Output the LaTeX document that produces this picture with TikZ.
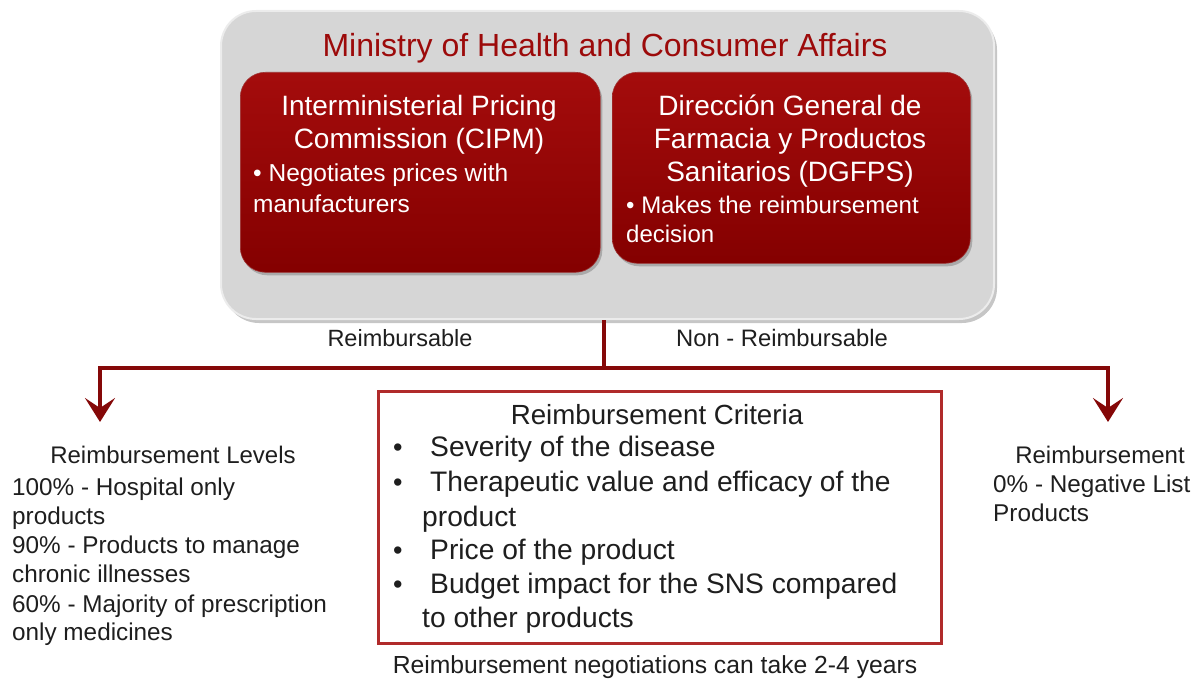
\documentclass[tikz,border=0pt]{standalone}
\usepackage{fontspec}
\setmainfont{Liberation Sans}
\usetikzlibrary{arrows.meta,shadows}
\definecolor{tred}{HTML}{9C0A0A}
\definecolor{cred}{HTML}{850808}
\definecolor{bred}{HTML}{B02A2A}
\definecolor{rtop}{HTML}{A40C0C}
\definecolor{rmid}{HTML}{950101}
\definecolor{rbot}{HTML}{840000}
\definecolor{gfill}{HTML}{D6D6D6}
\definecolor{tgray}{HTML}{1E1E1E}
\newcommand\fsz[1]{\fontsize{#1}{#1}\selectfont}
\begin{document}
\begin{tikzpicture}[x=1pt,y=-1pt,
  graybox/.style={draw=white!85!gray, line width=2pt, fill=gfill, rounded corners=35pt,
    drop shadow={shadow xshift=3pt, shadow yshift=-4pt, opacity=0.45}},
  redbox/.style={draw=rbot!80!white, line width=0.6pt, top color=rtop, middle color=rmid, bottom color=rbot, rounded corners=25pt,
    drop shadow={shadow xshift=2pt, shadow yshift=-3pt, opacity=0.5}},
  critbox/.style={draw=bred, line width=2.5pt, fill=white},
  txt/.style={inner sep=0pt, text=tgray},
  wtxt/.style={inner sep=0pt, text=white},
  conn/.style={draw=cred, line width=4.5pt, line join=miter},
  tip/.style={-{Stealth[length=24pt,width=30pt,inset=10pt]}}
]
\useasboundingbox (0,0) rectangle (1199,679);

% ministry
\node[graybox, anchor=north west, minimum width=773pt, minimum height=308pt] (ministry) at (220,10) {};
\node[inner sep=0pt, text=tred, anchor=base, font=\fsz{32}] (title) at (605,57) {Ministry of Health and Consumer Affairs};

\node[redbox, anchor=north west, minimum width=360pt, minimum height=200pt] (cipm) at (240,72) {};
\node[redbox, anchor=north west, minimum width=358pt, minimum height=191pt] (dgfps) at (612,72) {};

\node[wtxt, anchor=base, font=\fsz{28}] (c1) at (419,116) {Interministerial Pricing};
\node[wtxt, anchor=base, font=\fsz{28}] (c2) at (419,149) {Commission (CIPM)};
\node[wtxt, anchor=base west, font=\fsz{24.5}] (c3) at (253,182) {• Negotiates prices with};
\node[wtxt, anchor=base west, font=\fsz{24.5}] (c4) at (253,212) {manufacturers};

\node[wtxt, anchor=base, font=\fsz{28}] (d1) at (790,116) {Dirección General de};
\node[wtxt, anchor=base, font=\fsz{28}] (d2) at (790,149) {Farmacia y Productos};
\node[wtxt, anchor=base, font=\fsz{28}] (d3) at (790,182) {Sanitarios (DGFPS)};
\node[wtxt, anchor=base west, font=\fsz{24}] (d4) at (626,214) {• Makes the reimbursement};
\node[wtxt, anchor=base west, font=\fsz{24}] (d5) at (626,242) {decision};

% labels
\node[txt, anchor=base, font=\fsz{23.5}] (lreimb) at (400,346) {Reimbursable};
\node[txt, anchor=base, font=\fsz{23.8}] (lnon) at (782,346) {Non - Reimbursable};

% connectors
\coordinate (j) at (604,368);
\coordinate (la) at (100,422);
\coordinate (ra) at (1108,422);
\draw[conn] (ministry.south -| j) -- (j);
\draw[conn, tip] (j) -| (la);
\draw[conn, tip] (j) -| (ra);

% criteria
\node[critbox, anchor=north west, minimum width=563pt, minimum height=252pt] (crit) at (377,390) {};
\node[txt, anchor=base, font=\fsz{27.7}] (k0) at (657,424) {Reimbursement Criteria};
\node[txt, anchor=base west, font=\fsz{27}] (b1) at (393,456) {•};
\node[txt, anchor=base west, font=\fsz{28.2}] (k1) at (430,456) {Severity of the disease};
\node[txt, anchor=base west, font=\fsz{27}] (b2) at (393,491) {•};
\node[txt, anchor=base west, font=\fsz{28.2}] (k2) at (430,491) {Therapeutic value and efficacy of the};
\node[txt, anchor=base west, font=\fsz{28.2}] (k3) at (422,526) {product};
\node[txt, anchor=base west, font=\fsz{27}] (b3) at (393,559) {•};
\node[txt, anchor=base west, font=\fsz{28.2}] (k4) at (430,559) {Price of the product};
\node[txt, anchor=base west, font=\fsz{27}] (b4) at (393,593) {•};
\node[txt, anchor=base west, font=\fsz{28.2}] (k5) at (430,593) {Budget impact for the SNS compared};
\node[txt, anchor=base west, font=\fsz{28.2}] (k6) at (422,627) {to other products};
\node[txt, anchor=base, font=\fsz{24.7}] (note) at (655,673) {Reimbursement negotiations can take 2-4 years};

% left levels
\node[txt, anchor=base, font=\fsz{24}] (l0) at (173,463) {Reimbursement Levels};
\node[txt, anchor=base west, font=\fsz{24.3}] (l1) at (12,495) {100\% - Hospital only};
\node[txt, anchor=base west, font=\fsz{24.3}] (l2) at (12,524) {products};
\node[txt, anchor=base west, font=\fsz{24.3}] (l3) at (12,553) {90\% - Products to manage};
\node[txt, anchor=base west, font=\fsz{24.3}] (l4) at (12,582) {chronic illnesses};
\node[txt, anchor=base west, font=\fsz{24.3}] (l5) at (12,612) {60\% - Majority of prescription};
\node[txt, anchor=base west, font=\fsz{24.3}] (l6) at (12,640) {only medicines};

% right
\node[txt, anchor=base, font=\fsz{24}] (r0) at (1100,463) {Reimbursement};
\node[txt, anchor=base west, font=\fsz{24.3}] (r1) at (993,492) {0\% - Negative List};
\node[txt, anchor=base west, font=\fsz{24.3}] (r2) at (993,521) {Products};
\end{tikzpicture}
\end{document}
